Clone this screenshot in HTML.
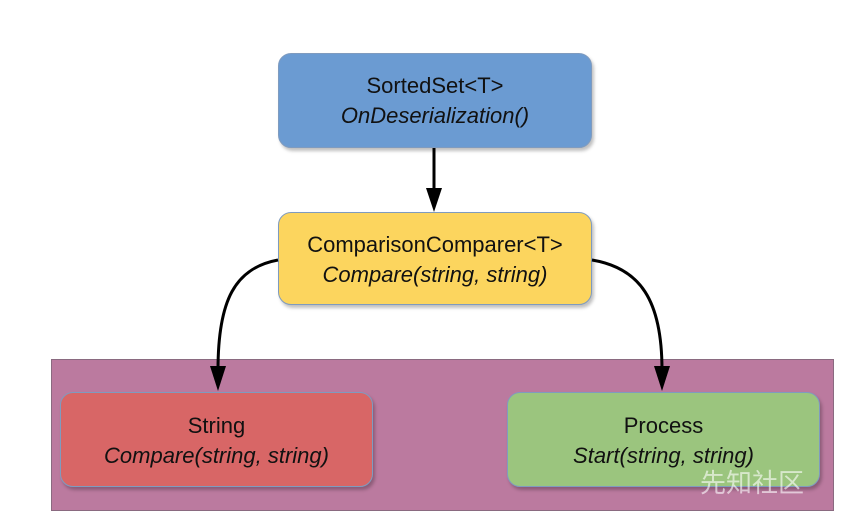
<!DOCTYPE html>
<html><head><style>
body{margin:0;width:861px;height:498px;background:#fff;overflow:hidden;position:relative;font-family:"Liberation Sans",sans-serif;}
.b{position:absolute;border-radius:13px;border:1.5px solid #7f9bbf;box-sizing:border-box;text-align:center;font-size:22px;color:#111;box-shadow:2px 3px 3px rgba(0,0,0,0.25);}
.b div{line-height:30px}
i{font-style:italic}
</style></head><body>
<div style="position:absolute;left:51px;top:359px;width:781px;height:150px;background:#bb7a9f;border:1px solid #8a6a80;"></div>
<div class="b" style="left:278px;top:53px;width:314px;height:95px;background:#6b9bd2;padding-top:17px"><div>SortedSet&lt;T&gt;</div><div><i>OnDeserialization()</i></div></div>
<div class="b" style="left:278px;top:212px;width:314px;height:93px;background:#fcd55e;padding-top:17px"><div>ComparisonComparer&lt;T&gt;</div><div><i>Compare(string, string)</i></div></div>
<div class="b" style="left:60px;top:392px;width:313px;height:95px;background:#d86666;padding-top:18px"><div>String</div><div><i>Compare(string, string)</i></div></div>
<div class="b" style="left:507px;top:392px;width:313px;height:95px;background:#9bc57e;padding-top:18px"><div>Process</div><div><i>Start(string, string)</i></div></div>
<svg width="861" height="498" style="position:absolute;left:0;top:0">
<g stroke="#000" stroke-width="3" fill="none">
<line x1="434" y1="148" x2="434" y2="192"/>
<path d="M278,260 C235,268 218,300 218,370"/>
<path d="M592,260 C640,268 662,300 662,370"/>
</g>
<g fill="#000">
<polygon points="426,188 442,188 434,212"/>
<polygon points="210,366 226,366 218,391"/>
<polygon points="654,366 670,366 662,391"/>
</g>
<text x="700" y="492" font-size="26" fill="#fff" fill-opacity="0.6" font-family="Noto Sans CJK SC,sans-serif">先知社区</text>
</svg>
</body></html>
